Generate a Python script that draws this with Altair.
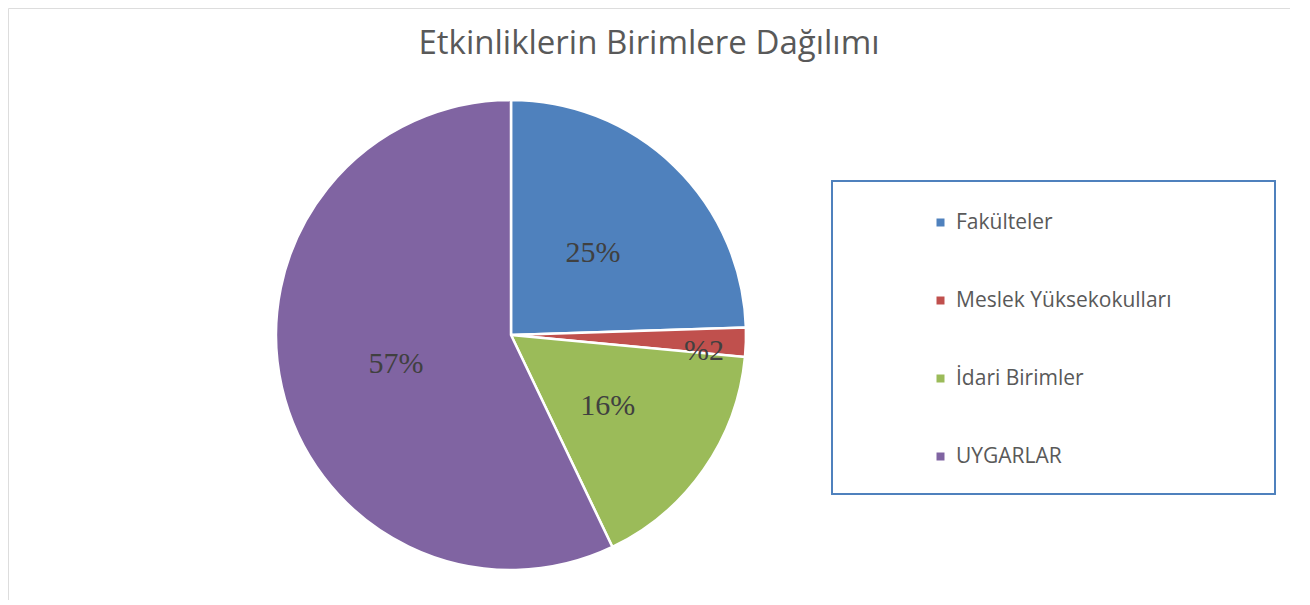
import altair as alt
import pandas as pd

categories = ["Fakülteler", "Meslek Yüksekokulları", "İdari Birimler", "UYGARLAR"]
values = [24.5, 2.0, 16.4, 57.1]
labels = ["25%", "%2", "16%", "57%"]
colors = ["#4f81bd", "#c0504d", "#9bbb59", "#8064a2"]
title_text = "Etkinliklerin Birimlere Dağılımı"

df = pd.DataFrame({
    "cat": categories,
    "value": values,
    "label": labels,
    "idx": list(range(len(categories))),
})

CX, CY, R = 503, 327, 235
SMALL = "datum.cat == 'Meslek Yüksekokulları'"

base = alt.Chart(df).encode(
    theta=alt.Theta("value:Q", stack=True),
    order=alt.Order("idx:Q", sort="ascending"),
    x=alt.value(CX),
    y=alt.value(CY),
)

pie = base.mark_arc(radius=R, stroke="white", strokeWidth=2.5).encode(
    color=alt.Color(
        "cat:N",
        scale=alt.Scale(domain=categories, range=colors),
        sort=categories,
        legend=alt.Legend(
            title=None,
            orient="none",
            legendX=922,
            legendY=204,
            symbolType="square",
            symbolSize=64,
            symbolStrokeWidth=0,
            labelFont="Open Sans",
            labelFontSize=21,
            labelColor="#595959",
            labelOffset=5,
            rowPadding=56,
            padding=0,
            labelLimit=400,
        ),
    )
)

text_big = base.mark_text(
    font="Liberation Serif", fontSize=30, color="#404040",
    align="center", baseline="middle", radius=118, dy=3,
).encode(
    detail="cat:N",
    text="label:N",
    opacity=alt.condition(SMALL, alt.value(0), alt.value(1)),
)

text_small = base.mark_text(
    font="Liberation Serif", fontSize=30, color="#404040",
    align="center", baseline="middle", radius=193, dy=10,
).encode(
    detail="cat:N",
    text="label:N",
    opacity=alt.condition(SMALL, alt.value(1), alt.value(0)),
)

legend_box = alt.Chart(df).mark_rect(
    fill="transparent", stroke="#4f81bd", strokeWidth=1.5
).encode(
    x=alt.value(824), x2=alt.value(1267),
    y=alt.value(173), y2=alt.value(486),
)

chart = alt.layer(legend_box, pie, text_big, text_small).properties(
    width=1282,
    height=592,
    padding=0,
    autosize=alt.AutoSizeParams(type="none"),
    title=alt.TitleParams(
        title_text, anchor="middle", offset=-53, font="Open Sans",
        fontSize=33, fontWeight="normal", color="#595959",
    ),
).configure_view(stroke="#d9d9d9", strokeWidth=1.5).configure(background="white")

chart.save("out.html", embed_options={"renderer": "svg", "actions": False})
